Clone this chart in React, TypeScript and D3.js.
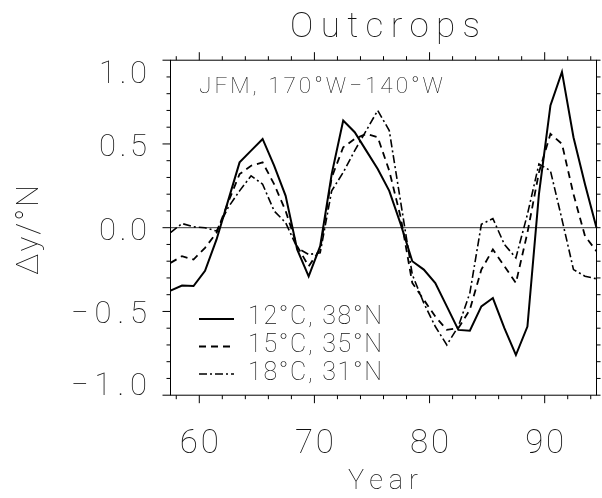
import React from "react";
import * as d3 from "d3";

const years = [57.5, 58.5, 59.5, 60.5, 61.5, 62.5, 63.5, 64.5, 65.5, 66.5, 67.5, 68.5, 69.5, 70.5, 71.5, 72.5, 73.5, 74.5, 75.5, 76.5, 77.5, 78.5, 79.5, 80.5, 81.5, 82.5, 83.5, 84.5, 85.5, 86.5, 87.5, 88.5, 89.5, 90.5, 91.5, 92.5, 93.5, 94.5];

const s12 = [-0.376, -0.345, -0.348, -0.257, -0.07, 0.16, 0.39, 0.46, 0.53, 0.37, 0.19, -0.13, -0.29, -0.11, 0.32, 0.64, 0.57, 0.46, 0.35, 0.22, 0.02, -0.2, -0.25, -0.33, -0.47, -0.61, -0.615, -0.47, -0.42, -0.6, -0.76, -0.59, 0.2, 0.73, 0.93, 0.54, 0.26, 0.0];
const s15 = [-0.21, -0.17, -0.19, -0.12, -0.03, 0.15, 0.32, 0.37, 0.39, 0.26, 0.1, -0.11, -0.23, -0.13, 0.3, 0.48, 0.53, 0.56, 0.54, 0.34, 0.06, -0.33, -0.43, -0.53, -0.61, -0.6, -0.49, -0.25, -0.13, -0.23, -0.33, -0.03, 0.33, 0.56, 0.5, 0.2, -0.05, -0.14];
const s18 = [-0.03, 0.025, 0.005, 0.0, -0.02, 0.12, 0.22, 0.31, 0.26, 0.1, 0.03, -0.12, -0.16, -0.15, 0.22, 0.33, 0.46, 0.58, 0.7, 0.58, 0.15, -0.28, -0.45, -0.59, -0.7, -0.59, -0.39, 0.02, 0.055, -0.1, -0.18, 0.08, 0.38, 0.34, 0.05, -0.25, -0.29, -0.305];

const seriesNames = ["12°C, 38°N", "15°C, 35°N", "18°C, 31°N"];
const xMajor = [60, 70, 80, 90];
const xMinor = [58, 62, 64, 66, 68, 72, 74, 76, 78, 82, 84, 86, 88, 92, 94];
const yMajor = [-1, -0.5, 0, 0.5, 1];
const yMajorLabels = ["\u22121.0", "\u22120.5", "0.0", "0.5", "1.0"];
const yMinor = [-0.9, -0.8, -0.7, -0.6, -0.4, -0.3, -0.2, -0.1, 0.1, 0.2, 0.3, 0.4, 0.6, 0.7, 0.8, 0.9];

const FONT = "Roboto, 'DejaVu Sans', sans-serif";

export default function App() {
  const W = 602, H = 498;
  const L = 170.5, R = 596.5, T = 60.2, B = 395.2;
  const x = d3.scaleLinear().domain([57.5, 94.5]).range([L, R]);
  const y = d3.scaleLinear().domain([-1, 1]).range([B, T]);
  const line = d3.line<[number, number]>().x((d) => x(d[0])).y((d) => y(d[1]));
  const all = [s12, s15, s18];
  const dashes = [undefined, "7,5", "8,3,2,3"];
  const widths = [2, 1.8, 1.6];

  const labelY = (v: number) => (v === 1 ? y(v) + 22.5 : v === -1 ? y(v) : y(v) + 12);

  return (
    <svg width={W} height={H} style={{ position: "absolute", left: 0, top: 0, background: "#fff" }} fontFamily={FONT}>
      <rect x={0} y={0} width={W} height={H} fill="#fff" />
      <g fill="#111" opacity={0.999} style={{ willChange: "transform" }}>
        <text x={385} y={37} fontSize={35} fontWeight={100} textAnchor="middle" textLength={190} lengthAdjust="spacing">Outcrops</text>
        {xMajor.map((t) => (
          <text key={"xl" + t} x={x(t)} y={453} fontSize={33} fontWeight={100} textAnchor="middle" textLength={39} lengthAdjust="spacing">{String(t)}</text>
        ))}
        {yMajor.map((t, i) => (
          <text key={"yl" + t} x={147} y={labelY(t)} fontSize={31} fontWeight={100} textAnchor="end" textLength={t < 0 ? 76 : 48} lengthAdjust="spacing">{yMajorLabels[i]}</text>
        ))}
        <text x={199} y={93} fontSize={22.5} fontWeight={100} textLength={244} lengthAdjust="spacing">JFM, 170°W−140°W</text>
        {seriesNames.map((n, i) => (
          <text key={"lt" + i} x={248} y={324 + i * 28} fontSize={25} fontWeight={100} textLength={134} lengthAdjust="spacing">{n}</text>
        ))}
        <text x={383} y={489} fontSize={27} fontWeight={100} textAnchor="middle" textLength={70} lengthAdjust="spacing">Year</text>
        <text transform="translate(38,230) rotate(-90)" fontSize={31} fontWeight={100} textAnchor="middle" textLength={90} lengthAdjust="spacing">Δy/°N</text>
      </g>
      {/* frame */}
      <rect x={L} y={T} width={R - L} height={B - T} fill="none" stroke="#000" strokeWidth={1} />
      {xMajor.map((t) => (
        <g key={"xM" + t}>
          <line x1={x(t)} x2={x(t)} y1={B} y2={B + 8} stroke="#000" strokeWidth={1} />
          <line x1={x(t)} x2={x(t)} y1={T} y2={T - 8} stroke="#000" strokeWidth={1} />
        </g>
      ))}
      {xMinor.map((t) => (
        <g key={"xm" + t}>
          <line x1={x(t)} x2={x(t)} y1={B} y2={B + 4} stroke="#000" strokeWidth={1} />
          <line x1={x(t)} x2={x(t)} y1={T} y2={T - 4} stroke="#000" strokeWidth={1} />
        </g>
      ))}
      {yMajor.map((t) => (
        <g key={"yM" + t}>
          <line x1={L} x2={L - 8} y1={y(t)} y2={y(t)} stroke="#000" strokeWidth={1} />
          <line x1={R} x2={R + 4} y1={y(t)} y2={y(t)} stroke="#000" strokeWidth={1} />
        </g>
      ))}
      {yMinor.map((t) => (
        <g key={"ym" + t}>
          <line x1={L} x2={L - 4} y1={y(t)} y2={y(t)} stroke="#000" strokeWidth={1} />
          <line x1={R} x2={R + 4} y1={y(t)} y2={y(t)} stroke="#000" strokeWidth={1} />
        </g>
      ))}
      <line x1={L} x2={R} y1={y(0)} y2={y(0)} stroke="#000" strokeWidth={0.8} />
      {all.map((s, i) => (
        <path key={"s" + i} d={line(years.map((yr, j) => [yr, s[j]]) as [number, number][]) || ""} fill="none" stroke="#000" strokeWidth={widths[i]} strokeDasharray={dashes[i]} strokeLinejoin="miter" />
      ))}
      {seriesNames.map((n, i) => (
        <line key={"ll" + i} x1={199} x2={234} y1={319 + i * 27.5} y2={319 + i * 27.5} stroke="#000" strokeWidth={widths[i]} strokeDasharray={dashes[i]} />
      ))}
    </svg>
  );
}
